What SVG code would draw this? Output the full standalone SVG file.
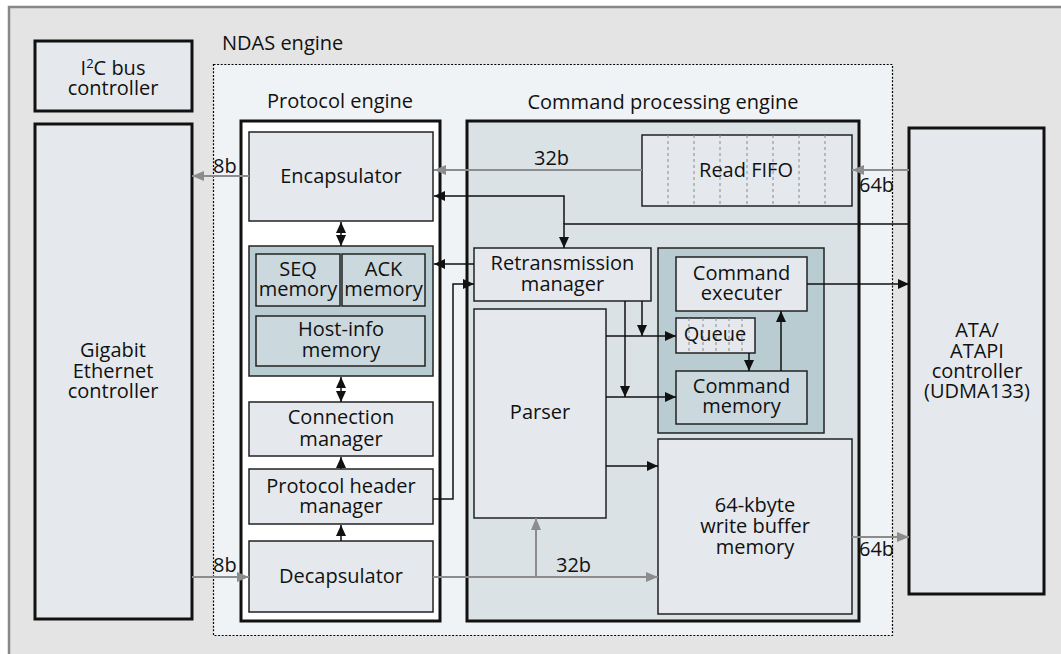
<svg xmlns="http://www.w3.org/2000/svg" width="1061" height="654" viewBox="0 0 1061 654">
  <style>
    text { font-family: "Open Sans", "Noto Sans", "Liberation Sans", sans-serif; font-size: 20px; fill: #111; text-anchor: middle; }
    .bw { text-anchor: start; }
    .thick { stroke: #111; stroke-width: 3; }
    .thin { stroke: #222; stroke-width: 1.5; }
    .node { fill: #e5e9ed; }
    .mem { fill: #cbd8dd; }
    .grp { fill: #b8ccd1; }
    .div { stroke: #888; stroke-width: 1; stroke-dasharray: 3 3; fill: none; }
    .blk { stroke: #111; stroke-width: 1.5; fill: none; }
    .gry { stroke: #8c8c8c; stroke-width: 2; fill: none; }
  </style>
  <defs>
    <marker id="ab" markerUnits="userSpaceOnUse" markerWidth="11" markerHeight="10" refX="11" refY="5" orient="auto-start-reverse">
      <path d="M0,0 L11,5 L0,10 z" fill="#111"/>
    </marker>
    <marker id="ag" markerUnits="userSpaceOnUse" markerWidth="12" markerHeight="10" refX="12" refY="5" orient="auto">
      <path d="M0,0 L12,5 L0,10 z" fill="#8c8c8c"/>
    </marker>
  </defs>

  <!-- board background -->
  <rect x="0" y="0" width="1061" height="654" fill="#ffffff"/>
  <rect x="9" y="7" width="1052" height="647" fill="#e4e4e4"/>
  <path d="M9,654 V7 H1061" stroke="#888" stroke-width="2.5" fill="none"/>

  <!-- NDAS engine boundary -->
  <g id="ndas-engine">
    <rect x="213.5" y="64.5" width="679" height="571" fill="#eff3f6" stroke="#000" stroke-width="1.2" stroke-dasharray="2 1.6"/>
    <text x="222" y="50" style="text-anchor:start">NDAS engine</text>
  </g>

  <g id="i2c">
    <rect x="35" y="41" width="157" height="70" class="node thick"/>
    <text x="113" y="75">I<tspan font-size="13" dy="-7">2</tspan><tspan dy="7">C bus</tspan><tspan x="113" y="95">controller</tspan></text>
  </g>

  <g id="gigabit">
    <rect x="35" y="124" width="157" height="495" class="node thick"/>
    <text x="113" y="357">Gigabit<tspan x="113" y="378">Ethernet</tspan><tspan x="113" y="398">controller</tspan></text>
  </g>

  <!-- Protocol engine -->
  <g id="protocol-engine">
    <text x="340" y="108">Protocol engine</text>
    <rect x="241" y="121" width="199" height="500" fill="#ffffff" class="thick"/>
  </g>
  <g id="encapsulator">
    <rect x="249" y="132" width="184" height="89" class="node thin"/>
    <text x="341" y="183">Encapsulator</text>
  </g>
  <g id="memories">
    <rect x="249" y="246" width="184" height="130" class="grp thin"/>
  </g>
  <g id="seq-memory">
    <rect x="256" y="254" width="84" height="52" class="mem thin"/>
    <text x="298" y="276">SEQ<tspan x="298" y="296">memory</tspan></text>
  </g>
  <g id="ack-memory">
    <rect x="342" y="254" width="83" height="52" class="mem thin"/>
    <text x="383.5" y="276">ACK<tspan x="383.5" y="296">memory</tspan></text>
  </g>
  <g id="hostinfo-memory">
    <rect x="256" y="316" width="169" height="50" class="mem thin"/>
    <text x="341" y="336">Host-info<tspan x="341" y="357">memory</tspan></text>
  </g>
  <g id="connection-manager">
    <rect x="249" y="402" width="184" height="54" class="node thin"/>
    <text x="341" y="424">Connection<tspan x="341" y="446">manager</tspan></text>
  </g>
  <g id="header-manager">
    <rect x="249" y="469" width="184" height="55" class="node thin"/>
    <text x="341" y="493">Protocol header<tspan x="341" y="513">manager</tspan></text>
  </g>
  <g id="decapsulator">
    <rect x="249" y="541" width="184" height="71" class="node thin"/>
    <text x="341" y="583">Decapsulator</text>
  </g>

  <!-- Command processing engine -->
  <g id="command-engine">
    <text x="663" y="109">Command processing engine</text>
    <rect x="467" y="121" width="392" height="500" fill="#dae2e6" class="thick"/>
  </g>
  <g id="read-fifo">
    <rect x="642" y="135" width="210" height="71" class="node thin"/>
    <path class="div" d="M668,135V206 M694,135V206 M720,135V206 M747,135V206 M773,135V206 M799,135V206 M825,135V206"/>
    <text x="746" y="177">Read FIFO</text>
  </g>
  <g id="retransmission-manager">
    <rect x="474" y="248" width="177" height="53" class="node thin"/>
    <text x="562.5" y="270">Retransmission<tspan x="562.5" y="291">manager</tspan></text>
  </g>
  <g id="parser">
    <rect x="474" y="309" width="132" height="209" class="node thin"/>
    <text x="540" y="419">Parser</text>
  </g>
  <g id="command-unit">
    <rect x="658" y="248" width="166" height="185" class="grp thin"/>
  </g>
  <g id="command-executer">
    <rect x="676" y="257" width="131" height="54" class="node thin"/>
    <text x="741.5" y="280">Command<tspan x="741.5" y="300">executer</tspan></text>
  </g>
  <g id="queue">
    <rect x="676" y="318" width="79" height="35" class="node thin"/>
    <path class="div" d="M689,318V353 M703,318V353 M716,318V353 M729,318V353 M742,318V353"/>
    <text x="715" y="341">Queue</text>
  </g>
  <g id="command-memory">
    <rect x="676" y="371" width="131" height="53" class="mem thin"/>
    <text x="741.5" y="393">Command<tspan x="741.5" y="413">memory</tspan></text>
  </g>
  <g id="write-buffer">
    <rect x="658" y="439" width="194" height="175" class="node thin"/>
    <text x="755" y="512">64-kbyte<tspan x="755" y="533">write buffer</tspan><tspan x="755" y="554">memory</tspan></text>
  </g>

  <g id="ata">
    <rect x="909" y="128" width="135" height="466" class="node thick"/>
    <text x="977" y="337">ATA/<tspan x="977" y="358">ATAPI</tspan><tspan x="977" y="378">controller</tspan><tspan x="977" y="398">(UDMA133)</tspan></text>
  </g>

  <!-- connectors -->
  <g id="connectors">
    <!-- byte-wide data paths -->
    <path class="gry" d="M249,176 H192" marker-end="url(#ag)"/>
    <path class="gry" d="M192,577 H249" marker-end="url(#ag)"/>
    <path class="gry" d="M642,170 H434" marker-end="url(#ag)"/>
    <path class="gry" d="M909,170 H852" marker-end="url(#ag)"/>
    <path class="gry" d="M433,577 H658" marker-end="url(#ag)"/>
    <path class="gry" d="M536,577 V518" marker-end="url(#ag)"/>
    <path class="gry" d="M852,537 H909" marker-end="url(#ag)"/>

    <!-- control paths -->
    <path class="blk" d="M341,222 V246" marker-start="url(#ab)" marker-end="url(#ab)"/>
    <path class="blk" d="M341,377 V402" marker-start="url(#ab)" marker-end="url(#ab)"/>
    <path class="blk" d="M341,469 V457" marker-end="url(#ab)"/>
    <path class="blk" d="M341,541 V525" marker-end="url(#ab)"/>
    <path class="blk" d="M909,224 H564 V248" marker-end="url(#ab)"/>
    <path class="blk" d="M564,224 V196 H434" marker-end="url(#ab)"/>
    <path class="blk" d="M474,264 H434" marker-end="url(#ab)"/>
    <path class="blk" d="M433,499 H453 V284 H474" marker-end="url(#ab)"/>
    <path class="blk" d="M606,336 H676" marker-end="url(#ab)"/>
    <path class="blk" d="M606,397 H676" marker-end="url(#ab)"/>
    <path class="blk" d="M642,301 V336" marker-end="url(#ab)"/>
    <path class="blk" d="M625,301 V397" marker-end="url(#ab)"/>
    <path class="blk" d="M749,353 V371" marker-end="url(#ab)"/>
    <path class="blk" d="M781,371 V311" marker-end="url(#ab)"/>
    <path class="blk" d="M807,284 H909" marker-end="url(#ab)"/>
    <path class="blk" d="M606,466 H658" marker-end="url(#ab)"/>

    <!-- bus widths -->
    <text x="213" y="173" class="bw">8b</text>
    <text x="213" y="572" class="bw">8b</text>
    <text x="534" y="165" class="bw">32b</text>
    <text x="556" y="572" class="bw">32b</text>
    <text x="859" y="192" class="bw">64b</text>
    <text x="859" y="556" class="bw">64b</text>
  </g>
</svg>
